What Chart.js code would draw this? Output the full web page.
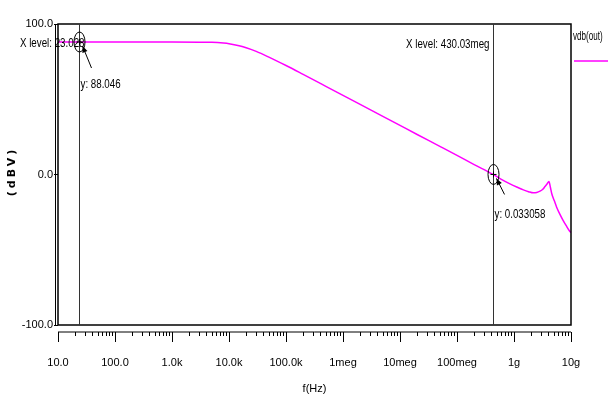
<!DOCTYPE html>
<html lang="en">
<head>
<meta charset="UTF-8">
<title>vdb(out)</title>
<style>
  * { margin: 0; padding: 0; box-sizing: border-box; }
  body { background: #ffffff; width: 608px; height: 400px; overflow: hidden; }
  .chart-wrap { position: relative; width: 608px; height: 400px; }
</style>
</head>
<body>
<div class="chart-wrap"><canvas id="bodeChart" width="608" height="400"></canvas></div>
<script src="https://cdn.jsdelivr.net/npm/chart.js"></script>
<script>
// frequency (Hz) and vdb(out) (dBV)
const freqs = [10, 100, 1e3, 3e3, 5e3, 8e3, 1e4, 1.5e4, 2e4, 3e4, 5e4, 1e5, 2e5, 5e5,
  1e6, 2e6, 5e6, 1e7, 2e7, 5e7, 1e8, 2e8, 4.3003e8, 6e8, 8.5e8, 1.15e9, 1.46e9, 1.8e9,
  2.18e9, 2.5e9, 2.86e9, 3.2e9, 3.5e9, 3.8e9, 4.1e9, 4.35e9, 4.6e9, 5.1e9, 5.6e9,
  6.4e9, 7.3e9, 8.3e9, 9.3e9, 1e10];
const vdbOut = [88.05, 88.05, 88.04, 87.95, 87.8, 87.3, 86.9, 85.6, 84.2, 81.8, 78.0, 72.4, 66.5, 58.6,
  52.6, 46.6, 38.6, 32.6, 26.6, 18.7, 12.7, 6.6, 0.033, -3.2, -6.2, -8.5, -10.2, -11.4,
  -12.2, -12.0, -11.1, -9.8, -8.0, -6.3, -4.7, -8.5, -12.8, -17.5, -21.7,
  -26.5, -30.6, -34.2, -37.2, -38.6];

const majorTicks = [10, 100, 1e3, 1e4, 1e5, 1e6, 1e7, 1e8, 1e9, 1e10];
const majorLabels = ['10.0', '100.0', '1.0k', '10.0k', '100.0k', '1meg', '10meg', '100meg', '1g', '10g'];
const minorSteps = [2, 3, 4, 5, 6, 7, 8, 9];
const yTicks = [-100, 0, 100];

// cursors
const cursorX = [23.028, 430.03e6];
const cursorY = [88.046, 0.033058];
const cursorXText = ['X level: 23.028', 'X level: 430.03meg'];
const cursorYText = ['y: 88.046', 'y: 0.033058'];

const SANS = "'Liberation Sans', Arial, sans-serif";
Chart.defaults.font.family = SANS;
Chart.defaults.font.size = 11;
Chart.defaults.color = '#000000';

const minorTicks = [];
majorTicks.slice(0, -1).forEach(m => minorSteps.forEach(s => minorTicks.push(m * s)));
const allTicks = majorTicks.concat(minorTicks).sort((a, b) => a - b);

const points = freqs.map((f, i) => ({ x: f, y: vdbOut[i] }));

// squeezed text, like the narrow font of the original
function narrowText(ctx, text, x, y, align, squeeze = 0.75) {
    ctx.save();
    ctx.translate(x, y);
    ctx.scale(squeeze, 1);
    ctx.font = '13px ' + SANS;
    ctx.textAlign = align;
    ctx.textBaseline = 'middle';
    ctx.fillStyle = '#000000';
    ctx.fillText(text, 0, 0);
    ctx.restore();
}

// frame, separate x axis, cursors, legend
const decorPlugin = {
    id: 'decor',
    afterDraw(chart) {
        const ctx = chart.ctx;
        const area = chart.chartArea;
        const xs = chart.scales.x;
        const ys = chart.scales.y;
        ctx.save();

        // plot frame
        ctx.strokeStyle = '#000000';
        ctx.lineWidth = 1.5;
        ctx.strokeRect(area.left, area.top, area.right - area.left, area.bottom - area.top);
        ctx.lineWidth = 1;
        ctx.beginPath();
        ctx.moveTo(area.left - 2.5, area.top);
        ctx.lineTo(area.left - 2.5, area.bottom);
        ctx.stroke();

        // x axis line below the frame
        const axisY = area.bottom + 7;
        ctx.beginPath();
        ctx.moveTo(area.left, axisY);
        ctx.lineTo(area.right, axisY);
        ctx.stroke();
        allTicks.forEach(v => {
            const px = Math.round(xs.getPixelForValue(v)) + 0.5;
            const len = majorTicks.includes(v) ? 10 : 4;
            ctx.beginPath();
            ctx.moveTo(px, axisY);
            ctx.lineTo(px, axisY + len);
            ctx.stroke();
        });

        // y axis title
        ctx.save();
        ctx.translate(12, (area.top + area.bottom) / 2 - 3);
        ctx.rotate(-Math.PI / 2);
        ctx.font = "bold 11px 'DejaVu Sans', sans-serif";
        ctx.letterSpacing = '3px';
        ctx.textAlign = 'center';
        ctx.textBaseline = 'middle';
        ctx.fillText('(dBV)', 0, 0);
        ctx.restore();

        // cursors
        cursorX.forEach((cx, i) => {
            const px = Math.round(xs.getPixelForValue(cx)) + 0.5;
            const py = ys.getPixelForValue(cursorY[i]);
            ctx.strokeStyle = '#333333';
            ctx.lineWidth = 1;
            ctx.beginPath();
            ctx.moveTo(px, area.top);
            ctx.lineTo(px, area.bottom);
            ctx.stroke();

            ctx.strokeStyle = '#000000';
            ctx.beginPath();
            ctx.ellipse(px, py, 5.5, 10, 0, 0, Math.PI * 2);
            ctx.stroke();
            ctx.beginPath();
            ctx.moveTo(px - 3, py);
            ctx.lineTo(px + 3, py);
            ctx.moveTo(px, py - 3);
            ctx.lineTo(px, py + 3);
            ctx.stroke();

            // arrow pointing back at the cursor point
            const tipX = px + 3, tipY = py + 4;
            const endX = px + (i === 0 ? 12 : 11), endY = py + (i === 0 ? 26 : 20);
            ctx.beginPath();
            ctx.moveTo(tipX, tipY);
            ctx.lineTo(endX, endY);
            ctx.stroke();
            const ang = Math.atan2(tipY - endY, tipX - endX);
            ctx.fillStyle = '#000000';
            ctx.beginPath();
            ctx.moveTo(tipX, tipY);
            ctx.lineTo(tipX - 7 * Math.cos(ang - 0.4), tipY - 7 * Math.sin(ang - 0.4));
            ctx.lineTo(tipX - 7 * Math.cos(ang + 0.4), tipY - 7 * Math.sin(ang + 0.4));
            ctx.closePath();
            ctx.fill();

            narrowText(ctx, cursorXText[i], i === 0 ? px + 5 : px - 4, area.top + (i === 0 ? 19 : 20), 'right');
            narrowText(ctx, cursorYText[i], px + 1, i === 0 ? py + 42 : py + 40, 'left');
        });

        // legend
        narrowText(ctx, 'vdb(out)', area.right + 2, 36, 'left', 0.62);
        ctx.strokeStyle = '#ff00ff';
        ctx.lineWidth = 1.5;
        ctx.beginPath();
        ctx.moveTo(area.right + 3, 61);
        ctx.lineTo(608, 61);
        ctx.stroke();

        ctx.restore();
    }
};

new Chart(document.getElementById('bodeChart'), {
    type: 'line',
    data: {
        datasets: [{
            label: 'vdb(out)',
            data: points,
            borderColor: '#ff00ff',
            borderWidth: 1.5,
            pointRadius: 0,
            cubicInterpolationMode: 'monotone',
            fill: false
        }]
    },
    options: {
        responsive: false,
        animation: false,
        events: [],
        layout: { padding: { top: 24, right: 37, bottom: 0, left: 0 } },
        plugins: {
            legend: { display: false },
            tooltip: { enabled: false }
        },
        scales: {
            x: {
                type: 'logarithmic',
                min: 10,
                max: 1e10,
                afterBuildTicks: scale => { scale.ticks = allTicks.map(v => ({ value: v })); },
                afterFit: scale => { scale.height = 75; },
                // invisible tick marks only push the labels down; the visible axis is drawn by the plugin
                grid: { display: true, drawOnChartArea: false, drawTicks: true, tickLength: 28, color: 'rgba(0,0,0,0)' },
                border: { display: false },
                ticks: {
                    autoSkip: false,
                    maxRotation: 0,
                    minRotation: 0,
                    padding: 3,
                    callback: value => {
                        const i = majorTicks.indexOf(value);
                        return i >= 0 ? majorLabels[i] : '';
                    }
                },
                title: { display: true, text: 'f(Hz)', padding: { top: 0, bottom: 4 } }
            },
            y: {
                min: -100,
                max: 100,
                afterBuildTicks: scale => { scale.ticks = yTicks.map(v => ({ value: v })); },
                afterFit: scale => { scale.width = 58; },
                grid: { drawOnChartArea: false, drawTicks: true, tickLength: 4, color: '#000000' },
                border: { display: false },
                ticks: { padding: 1, callback: v => v.toFixed(1) }
            }
        }
    },
    plugins: [decorPlugin]
});
</script>
</body>
</html>
